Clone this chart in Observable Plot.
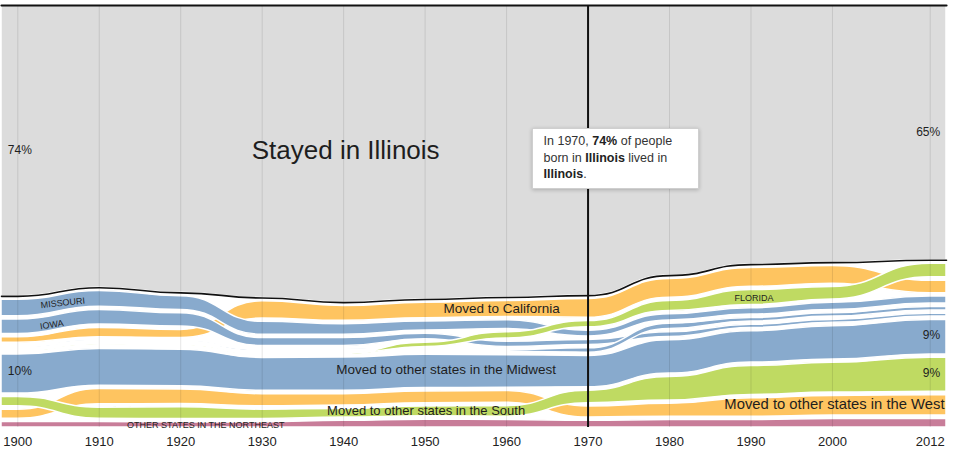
<!DOCTYPE html>
<html>
<head>
<meta charset="utf-8">
<script src="https://cdn.jsdelivr.net/npm/d3@7"></script>
<script src="https://cdn.jsdelivr.net/npm/@observablehq/plot@0.6"></script>
<style>
  body { margin: 0; background: #fff; font-family: "Liberation Sans", Arial, sans-serif; }
  #wrap { position: relative; width: 960px; height: 465px; }
  .tip {
    position: absolute; background: #fff; border: 1px solid #cfcfcf;
    box-shadow: 0 1px 4px rgba(0,0,0,0.22);
    width: 144px;
    padding: 4px 10px 5px 11px; font-size: 12.5px; line-height: 16.5px; color: #333;
    white-space: nowrap;
  }
  .tip b { color: #222; }
</style>
</head>
<body>
<div id="wrap"></div>
<script>
// ---- data (share of people born in Illinois, % living in each place) ----
const years          = [1900, 1910, 1920, 1930, 1940, 1950, 1960, 1970, 1980, 1990, 2000, 2012];
const illinois       = [74.2, 72.0, 73.3, 74.6, 75.8, 75.0, 74.5, 74.0, 68.9, 66.1, 65.6, 65.0];
const missouri       = [4.2, 4.0, 3.5, 3.3, 2.7, 2.3, 2.2, 1.5, 1.6, 1.6, 1.8, 1.8];
const iowa           = [3.7, 3.7, 3.4, 2.0, 2.0, 1.4, 1.3, 1.3, 1.2, 0.8, 0.75, 0.7];
const wisconsin      = [0.3, 0.3, 0.3, 0.3, 0.25, 0.3, 0.4, 1.1, 1.3, 0.9, 0.85, 0.9];
const california     = [1.4, 2.4, 2.1, 4.4, 3.8, 3.9, 4.1, 4.8, 4.8, 4.8, 4.5, 3.2];
const florida        = [0.1, 0.1, 0.1, 0.2, 0.15, 1.1, 1.6, 1.6, 2.5, 3.8, 3.2, 3.5];
const otherMidwest   = [10.0, 9.4, 9.3, 8.4, 8.5, 8.5, 8.3, 8.0, 8.5, 8.0, 8.5, 8.8];
const otherSouth     = [2.4, 2.8, 3.0, 2.4, 2.2, 2.5, 2.7, 3.2, 6.0, 7.4, 7.6, 8.7];
const otherWest      = [2.3, 3.9, 3.7, 3.1, 2.9, 3.0, 3.0, 2.8, 3.3, 4.7, 5.0, 5.2];
const otherNortheast = [1.4, 1.4, 1.3, 1.3, 1.7, 2.0, 1.9, 1.7, 1.9, 1.9, 2.2, 2.2];

const selectedYear = 1970;
const tickYears = years;

// series table: group 3 = stayed, 2 = named states, 1 = other regions, 0 = northeast
const seriesList = [
  {key: "Illinois", group: 3, values: illinois},
  {key: "Other Northeast", group: 0, values: otherNortheast},
  {key: "Other West", group: 1, values: otherWest},
  {key: "Other South", group: 1, values: otherSouth},
  {key: "Other Midwest", group: 1, values: otherMidwest},
  {key: "California", group: 2, values: california},
  {key: "Missouri", group: 2, values: missouri},
  {key: "Iowa", group: 2, values: iowa},
  {key: "Wisconsin", group: 2, values: wisconsin},
  {key: "Florida", group: 2, values: florida}
];

// ---- styles ----
const GRAY = "#dcdcdc", BLUE = "#88aacd", ORANGE = "#fec460", GREEN = "#bfda62", PINK = "#c87d99";
const COLORS = {
  "Illinois": GRAY, "Other Northeast": PINK, "Other West": ORANGE, "Other South": GREEN,
  "Other Midwest": BLUE, "California": ORANGE, "Missouri": BLUE, "Iowa": BLUE,
  "Wisconsin": BLUE, "Florida": GREEN
};
const GAP = 0.85;                 // white spacing between bands (in % units)
const X_DOMAIN = [1898, 2014];

// ---- build stack table (bands sorted by size each year, gaps between) ----
const others = seriesList.filter(s => s.group < 3);
const TOTAL = 100 + others.length * GAP;
const pos = new Map();
years.forEach((yr, i) => {
  others.slice()
    .sort((a, b) => a.group - b.group || a.values[i] - b.values[i])
    .forEach((s, p) => pos.set(s.key + "|" + i, p));
});
const rows = [];
function pushRow(s, i, x, gap) {
  rows.push({
    x, year: years[i], series: s.key, key: gap ? s.key + " gap" : s.key, gap,
    value: gap ? GAP : s.values[i],
    rank: s.group === 3 ? 1000 : 2 * pos.get(s.key + "|" + i) + (gap ? 1 : 0)
  });
}
for (const s of seriesList) {
  for (const gap of (s.group === 3 ? [false] : [false, true])) {
    years.forEach((yr, i) => {
      if (i === 0) pushRow(s, i, X_DOMAIN[0], gap);           // extend to frame edge
      pushRow(s, i, yr, gap);
      if (i === years.length - 1) pushRow(s, i, X_DOMAIN[1], gap);
    });
  }
}
const stackOpts = {x: "x", y: "value", z: "key", order: "rank"};

// ---- annotations ----
const pct = d => Math.round(d.value) + "%";
const annotations = [
  {key: "Illinois", year: 1900, text: pct, anchor: "start", dx: -10, dy: -1, size: 12},
  {key: "Illinois", year: 2012, text: pct, anchor: "end", dx: 10, dy: -1, size: 12},
  {key: "Other Midwest", year: 1900, text: pct, anchor: "start", dx: -10, dy: -3, size: 12},
  {key: "Other Midwest", year: 2012, text: pct, anchor: "end", dx: 10, dy: -2, size: 12},
  {key: "Other South", year: 2012, text: pct, anchor: "end", dx: 10, dy: -2, size: 12},
  {key: "Illinois", year: 1940, text: () => "Stayed in Illinois", anchor: "middle", dx: 2, dy: -3, size: 26},
  {key: "California", year: 1960, text: () => "Moved to California", anchor: "middle", dx: -5, dy: 0, size: 13.5},
  {key: "Other Midwest", year: 1950, text: () => "Moved to other states in the Midwest", anchor: "middle", dx: 21, dy: -2, size: 13.5},
  {key: "Other South", year: 1950, text: () => "Moved to other states in the South", anchor: "middle", dx: 1, dy: -1, size: 13},
  {key: "Other West", year: 2000, text: () => "Moved to other states in the West", anchor: "middle", dx: 2, dy: -1, size: 14.8},
  {key: "Other Northeast", year: 1920, text: () => "OTHER STATES IN THE NORTHEAST", anchor: "middle", dx: 25, dy: 0, size: 9},
  {key: "Missouri", year: 1900, text: () => "MISSOURI", anchor: "middle", dx: 45, dy: -5, size: 9, rotate: -6},
  {key: "Iowa", year: 1900, text: () => "IOWA", anchor: "middle", dx: 34, dy: -2, size: 9, rotate: -9},
  {key: "Florida", year: 1990, text: () => "FLORIDA", anchor: "middle", dx: 3, dy: 1, size: 9}
];

const marks = [
  Plot.areaY(rows, Plot.stackY({
    ...stackOpts,
    fill: d => d.gap ? "transparent" : COLORS[d.series],
    stroke: d => d.gap ? "transparent" : "white",
    strokeWidth: 1.5,
    curve: "bump-x"
  })),
  Plot.ruleX(tickYears, {stroke: "#000", strokeOpacity: 0.1}),
  Plot.lineY(rows, Plot.stackY1({
    ...stackOpts,
    stroke: d => d.key === "Illinois" ? "#111" : "transparent",
    strokeWidth: 1.6, curve: "bump-x"
  })),
  Plot.lineY(rows, Plot.stackY2({
    ...stackOpts,
    stroke: d => d.key === "Illinois" ? "#111" : "transparent",
    strokeWidth: 2.2, curve: "bump-x"
  })),
  Plot.ruleX([selectedYear], {stroke: "#111", strokeWidth: 2}),
  ...annotations.map(a => Plot.text(rows, Plot.stackY({
    ...stackOpts,
    text: d => (d.key === a.key && d.x === a.year) ? a.text(d) : null,
    textAnchor: a.anchor, dx: a.dx, dy: a.dy, fontSize: a.size,
    rotate: a.rotate || 0, fill: "#1e1e1e"
  })))
];

const chart = Plot.plot({
  width: 960,
  height: 465,
  marginTop: 5,
  marginBottom: 38,
  marginLeft: 1,
  marginRight: 14,
  style: {fontFamily: "'Liberation Sans', Arial, sans-serif", fontSize: "13px", color: "#222", background: "#fff"},
  x: {domain: X_DOMAIN, ticks: tickYears, tickFormat: d => String(d), tickSize: 0, tickPadding: 9, label: null},
  y: {domain: [0, TOTAL], axis: null},
  color: {type: "identity"},
  marks
});
const wrap = document.getElementById("wrap");
wrap.appendChild(chart);

// tooltip for the selected year
const iSel = years.indexOf(selectedYear);
const tip = document.createElement("div");
tip.className = "tip";
tip.innerHTML = `In ${selectedYear}, <b>${Math.round(illinois[iSel])}%</b> of people<br>born in <b>Illinois</b> lived in<br><b>Illinois</b>.`;
const xs = chart.scale("x");
tip.style.left = (xs.apply(selectedYear) - 56) + "px";
tip.style.top = "128px";
wrap.appendChild(tip);
</script>
</body>
</html>
